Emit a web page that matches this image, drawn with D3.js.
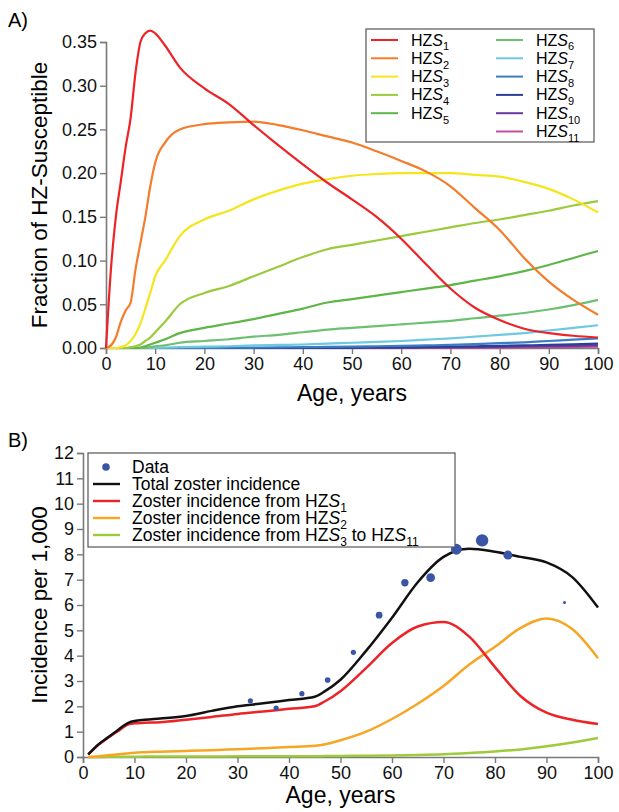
<!DOCTYPE html>
<html>
<head>
<meta charset="utf-8">
<script src="https://cdn.jsdelivr.net/npm/d3@7"></script>
<style>
  body { margin: 0; background: #fff; }
  svg { font-family: "Liberation Sans", Arial, Helvetica, sans-serif; }
</style>
</head>
<body>
<div id="chart"></div>
<script>
// ---- Panel A data: fraction of HZ-susceptible by age ----
const agesA = [0, 1, 2, 3, 4, 5, 6, 7, 8, 9, 10, 12, 15, 20, 25, 30, 35, 40, 45, 50, 55, 60, 65, 70, 75, 80, 85, 90, 95, 100];
const hzs1 = [0, 0.09, 0.15, 0.19, 0.23, 0.263, 0.315, 0.35, 0.36, 0.363, 0.36, 0.346, 0.321, 0.297, 0.279, 0.255, 0.232, 0.21, 0.189, 0.17, 0.15, 0.125, 0.096, 0.068, 0.046, 0.032, 0.022, 0.017, 0.014, 0.012];
const hzs2 = [0, 0.003, 0.012, 0.03, 0.043, 0.052, 0.09, 0.12, 0.15, 0.185, 0.212, 0.235, 0.25, 0.256, 0.258, 0.259, 0.255, 0.249, 0.242, 0.235, 0.225, 0.214, 0.202, 0.185, 0.16, 0.135, 0.103, 0.076, 0.055, 0.038];
const hzs3 = [0, 0, 0, 0.001, 0.003, 0.008, 0.016, 0.028, 0.045, 0.063, 0.082, 0.1, 0.128, 0.147, 0.157, 0.17, 0.18, 0.188, 0.193, 0.197, 0.199, 0.2, 0.2, 0.2, 0.198, 0.196, 0.19, 0.182, 0.17, 0.155];
const hzs4 = [0, 0, 0, 0, 0, 0.001, 0.002, 0.004, 0.008, 0.012, 0.018, 0.03, 0.05, 0.063, 0.071, 0.082, 0.093, 0.104, 0.113, 0.118, 0.123, 0.128, 0.133, 0.138, 0.143, 0.147, 0.152, 0.157, 0.163, 0.168];
const hzs5 = [0, 0, 0, 0, 0, 0, 0, 0.0005, 0.002, 0.004, 0.006, 0.01, 0.017, 0.023, 0.028, 0.033, 0.039, 0.045, 0.052, 0.056, 0.06, 0.064, 0.068, 0.072, 0.077, 0.082, 0.088, 0.095, 0.103, 0.111];
const hzs6 = [0, 0, 0, 0, 0, 0, 0, 0, 0, 0.001, 0.002, 0.003, 0.006, 0.008, 0.01, 0.013, 0.015, 0.018, 0.021, 0.023, 0.025, 0.027, 0.029, 0.031, 0.034, 0.037, 0.04, 0.044, 0.049, 0.055];
const hzs7 = [0, 0, 0, 0, 0, 0, 0, 0, 0, 0, 0, 0.0005, 0.001, 0.0015, 0.002, 0.003, 0.0035, 0.004, 0.005, 0.006, 0.007, 0.008, 0.0095, 0.011, 0.013, 0.015, 0.017, 0.02, 0.023, 0.026];
const hzs8 = [0, 0, 0, 0, 0, 0, 0, 0, 0, 0, 0, 0, 0, 0, 0.0003, 0.0005, 0.0007, 0.001, 0.0012, 0.0015, 0.002, 0.0025, 0.003, 0.0035, 0.0045, 0.0055, 0.0065, 0.008, 0.0095, 0.011];
const hzs9 = [0, 0, 0, 0, 0, 0, 0, 0, 0, 0, 0, 0, 0, 0, 0, 0, 0, 0.0002, 0.0003, 0.0005, 0.0007, 0.0009, 0.0012, 0.0015, 0.002, 0.0025, 0.003, 0.0035, 0.0042, 0.005];
const hzs10 = [0, 0, 0, 0, 0, 0, 0, 0, 0, 0, 0, 0, 0, 0, 0, 0, 0, 0, 0, 0.0002, 0.0003, 0.0004, 0.0006, 0.0008, 0.001, 0.0013, 0.0017, 0.0021, 0.0025, 0.003];
const hzs11 = [0, 0, 0, 0, 0, 0, 0, 0, 0, 0, 0, 0, 0, 0, 0, 0, 0, 0, 0, 0, 0, 0.0001, 0.0002, 0.0003, 0.0004, 0.0005, 0.0007, 0.0009, 0.0012, 0.0015];
const seriesA = [hzs1, hzs2, hzs3, hzs4, hzs5, hzs6, hzs7, hzs8, hzs9, hzs10, hzs11];
const colorsA = ["#ec2327", "#f47c2a", "#f4e51c", "#9acb3c", "#5fb648", "#6cc071", "#6cc9df", "#3b7dc5", "#2c3e96", "#6a3b9d", "#c94a9c"];
const ticksA = [0, 0.05, 0.1, 0.15, 0.2, 0.25, 0.3, 0.35];

// ---- Panel B data: zoster incidence per 1,000 ----
const agesB = [1, 2, 3, 4, 5, 6, 7, 8, 9, 10, 12, 15, 20, 25, 30, 35, 40, 45, 47, 50, 55, 60, 65, 70, 75, 80, 85, 90, 95, 100];
const totalInc = [0.1, 0.3, 0.5, 0.65, 0.8, 0.95, 1.1, 1.25, 1.37, 1.42, 1.47, 1.52, 1.62, 1.82, 2.0, 2.12, 2.25, 2.38, 2.6, 3.05, 4.2, 5.5, 6.9, 7.9, 8.22, 8.1, 7.9, 7.68, 7.1, 5.9];
const incS1 = [0.1, 0.3, 0.48, 0.63, 0.78, 0.92, 1.05, 1.2, 1.3, 1.33, 1.35, 1.37, 1.47, 1.58, 1.7, 1.8, 1.9, 2.0, 2.2, 2.6, 3.52, 4.5, 5.15, 5.33, 4.75, 3.55, 2.4, 1.75, 1.47, 1.3];
const incS2 = [0, 0.01, 0.03, 0.05, 0.07, 0.09, 0.11, 0.13, 0.15, 0.17, 0.19, 0.21, 0.24, 0.27, 0.31, 0.35, 0.39, 0.44, 0.5, 0.66, 1.0, 1.5, 2.1, 2.8, 3.65, 4.35, 5.1, 5.47, 5.05, 3.9];
const incS3to11 = [0, 0, 0, 0, 0.01, 0.01, 0.01, 0.01, 0.01, 0.01, 0.015, 0.015, 0.02, 0.02, 0.025, 0.025, 0.03, 0.03, 0.035, 0.04, 0.05, 0.06, 0.08, 0.11, 0.16, 0.22, 0.3, 0.42, 0.57, 0.75];
const dataAges = [32.5, 37.5, 42.5, 47.5, 52.5, 57.5, 62.5, 67.5, 72.5, 77.5, 82.5, 93.5];
const dataInc = [2.22, 1.93, 2.5, 3.04, 4.13, 5.6, 6.88, 7.08, 8.2, 8.55, 7.97, 6.1];
const dataWeight = [0.6, 0.6, 0.6, 0.7, 0.6, 1.0, 1.2, 1.7, 2.6, 3.4, 1.8, 0.2];
const ticksB = d3.range(0, 13);
const ticksX = d3.range(0, 101, 10);

const width = 619, height = 812;
const svg = d3.select("#chart").append("svg")
  .attr("width", width).attr("height", height);

const axisColor = "#7a7a7a";
const tickFont = "18px";

function styleAxis(g) {
  g.select(".domain").attr("stroke", axisColor).attr("stroke-width", 1.6);
  g.selectAll(".tick line").attr("stroke", axisColor).attr("stroke-width", 1.4);
  g.selectAll(".tick text").attr("fill", "#111").style("font-size", tickFont);
}

// label with italic S and subscripts; a shift left pending from a subscript goes on the next tspan
function hzsLabel(sel, parts, size) {
  let pending = 0;
  parts.forEach(p => {
    const ts = sel.append("tspan").text(p.v).style("font-size", size + "px");
    if (p.t === "i") ts.attr("font-style", "italic");
    if (p.t === "s") {
      ts.style("font-size", Math.round(size * 0.7) + "px").attr("dy", pending + size * 0.3);
      pending = -size * 0.3;
    } else if (pending) {
      ts.attr("dy", pending);
      pending = 0;
    }
  });
}

// ================= Panel A =================
const xA = d3.scaleLinear().domain([0, 100]).range([106, 598]);
const yA = d3.scaleLinear().domain([0, 0.35]).range([348, 42]);

svg.append("g").attr("transform", `translate(0,${yA(0)})`)
  .call(d3.axisBottom(xA).tickValues(ticksX).tickSize(6).tickPadding(3))
  .call(styleAxis);
svg.append("g").attr("transform", `translate(${xA(0)},0)`)
  .call(d3.axisLeft(yA).tickValues(ticksA).tickFormat(d3.format(".2f")).tickSize(6).tickPadding(3))
  .call(styleAxis);

const lineA = d3.line().x((d, i) => xA(agesA[i])).y(d => yA(d)).curve(d3.curveMonotoneX);
seriesA.slice().reverse().forEach((s, k) => {
  const i = seriesA.length - 1 - k;
  svg.append("path").datum(s)
    .attr("d", lineA)
    .attr("fill", "none")
    .attr("stroke", colorsA[i])
    .attr("stroke-width", 2.2);
});

svg.append("text").attr("x", 8).attr("y", 27).text("A)").style("font-size", "20px");
svg.append("text")
  .attr("x", (xA(0) + xA(100)) / 2).attr("y", 401)
  .attr("text-anchor", "middle").style("font-size", "23px")
  .text("Age, years");
svg.append("text")
  .attr("transform", `translate(47,${(yA(0) + yA(0.35)) / 2}) rotate(-90)`)
  .attr("text-anchor", "middle").style("font-size", "22.5px")
  .text("Fraction of HZ-Susceptible");

// legend A
const legA = svg.append("g");
legA.append("rect").attr("x", 366).attr("y", 29).attr("width", 228).attr("height", 113)
  .attr("fill", "#fff").attr("stroke", "#555").attr("stroke-width", 1.2);
seriesA.forEach((s, i) => {
  const col = i < 5 ? 0 : 1;
  const row = i < 5 ? i : i - 5;
  const lx = col === 0 ? 371 : 496;
  const ly = 40 + row * 18.3;
  legA.append("line").attr("x1", lx).attr("x2", lx + 27).attr("y1", ly).attr("y2", ly)
    .attr("stroke", colorsA[i]).attr("stroke-width", 2);
  const t = legA.append("text").attr("x", lx + 40).attr("y", ly + 5.5).style("font-size", "16px");
  hzsLabel(t, [{t: "n", v: "HZ"}, {t: "i", v: "S"}, {t: "s", v: String(i + 1)}], 16);
});

// ================= Panel B =================
const xB = d3.scaleLinear().domain([0, 100]).range([83, 598]);
const yB = d3.scaleLinear().domain([0, 12]).range([757, 453]);

svg.append("g").attr("transform", `translate(0,${yB(0)})`)
  .call(d3.axisBottom(xB).tickValues(ticksX).tickSize(6).tickPadding(3))
  .call(styleAxis);
svg.append("g").attr("transform", `translate(${xB(0)},0)`)
  .call(d3.axisLeft(yB).tickValues(ticksB).tickSize(6).tickPadding(3))
  .call(styleAxis);

const lineB = d3.line().x((d, i) => xB(agesB[i])).y(d => yB(d)).curve(d3.curveMonotoneX);
const seriesB = [
  {v: incS3to11, c: "#9dcb3b"},
  {v: incS2, c: "#f6a623"},
  {v: incS1, c: "#ec2327"},
  {v: totalInc, c: "#111111"}
];
seriesB.forEach(s => {
  svg.append("path").datum(s.v)
    .attr("d", lineB)
    .attr("fill", "none")
    .attr("stroke", s.c)
    .attr("stroke-width", 2.5);
});

const rScale = d3.scaleSqrt().domain([0, 3.4]).range([0, 6.2]);
svg.append("g").selectAll("circle")
  .data(dataAges)
  .join("circle")
  .attr("cx", d => xB(d))
  .attr("cy", (d, i) => yB(dataInc[i]))
  .attr("r", (d, i) => rScale(dataWeight[i]))
  .attr("fill", "#3a55a6");

svg.append("text").attr("x", 8).attr("y", 447).text("B)").style("font-size", "20px");
svg.append("text")
  .attr("x", (xB(0) + xB(100)) / 2).attr("y", 803)
  .attr("text-anchor", "middle").style("font-size", "23px")
  .text("Age, years");
svg.append("text")
  .attr("transform", `translate(47,${(yB(0) + yB(12)) / 2}) rotate(-90)`)
  .attr("text-anchor", "middle").style("font-size", "22.5px")
  .text("Incidence per 1,000");

// legend B
const legB = svg.append("g");
legB.append("rect").attr("x", 88).attr("y", 453).attr("width", 367).attr("height", 94)
  .attr("fill", "#fff").attr("stroke", "#555").attr("stroke-width", 1.2);
const legBItems = [
  {kind: "dot", c: "#3a55a6", parts: [{t: "n", v: "Data"}]},
  {kind: "line", c: "#111111", parts: [{t: "n", v: "Total zoster incidence"}]},
  {kind: "line", c: "#ec2327", parts: [{t: "n", v: "Zoster incidence from HZ"}, {t: "i", v: "S"}, {t: "s", v: "1"}]},
  {kind: "line", c: "#f6a623", parts: [{t: "n", v: "Zoster incidence from HZ"}, {t: "i", v: "S"}, {t: "s", v: "2"}]},
  {kind: "line", c: "#9dcb3b", parts: [{t: "n", v: "Zoster incidence from HZ"}, {t: "i", v: "S"}, {t: "s", v: "3"}, {t: "n", v: " to HZ"}, {t: "i", v: "S"}, {t: "s", v: "11"}]}
];
legBItems.forEach((it, i) => {
  const ly = 467 + i * 17;
  if (it.kind === "dot") {
    legB.append("circle").attr("cx", 106).attr("cy", ly).attr("r", 3.8).attr("fill", it.c);
  } else {
    legB.append("line").attr("x1", 93).attr("x2", 120).attr("y1", ly).attr("y2", ly)
      .attr("stroke", it.c).attr("stroke-width", 2.4);
  }
  const t = legB.append("text").attr("x", 132).attr("y", ly + 6).style("font-size", "17.5px");
  hzsLabel(t, it.parts, 17.5);
});
</script>
</body>
</html>
